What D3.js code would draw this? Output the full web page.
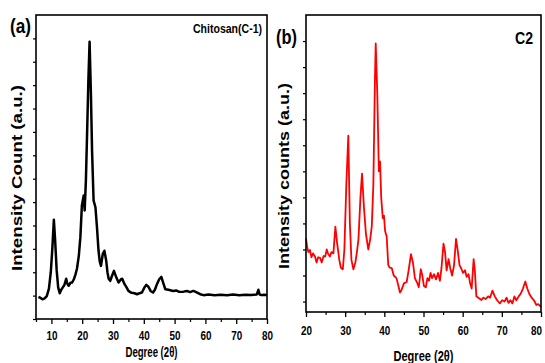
<!DOCTYPE html>
<html><head><meta charset="utf-8">
<script src="https://cdn.jsdelivr.net/npm/d3@7"></script>
<style>
body{margin:0;background:#fff;}
text{font-family:'Liberation Sans',Arial,sans-serif;font-weight:bold;}
</style></head>
<body><svg id="c" width="545" height="363"></svg>
<script>
// Panel (a) Chitosan(C-1)
const degA = [5.8,6.5,7.1,7.8,8.5,9.2,9.8,10.3,10.8,11.2,11.7,12.2,12.7,13.2,13.6,14.2,14.8,15.2,15.6,16.2,16.7,17.3,17.8,18.3,18.9,19.4,19.9,20.5,20.8,21.2,21.6,22.0,22.4,22.8,23.2,23.7,24.3,24.8,25.3,25.7,26.1,26.7,27.2,27.8,28.2,28.6,29.1,29.7,30.3,31.1,31.8,32.6,33.0,33.7,34.4,35.0,36.0,37.0,37.8,38.6,39.4,40.2,40.8,41.5,42.2,43.0,43.6,44.3,45.0,45.7,46.3,47.0,48.0,48.6,49.5,50.5,51.5,52.9,54,55,56.1,57,58.3,59.4,61,63,65,67,69,71,73,75,76.7,77.2,77.6,78.3,79,80];
const intA = [0.94,0.90,0.84,0.88,0.98,1.30,2.0,3.0,4.24,3.4,2.1,1.35,1.10,1.25,1.33,1.45,1.72,1.50,1.42,1.55,1.56,1.70,1.90,2.15,2.7,3.49,4.85,5.28,4.64,5.92,8.0,10.2,11.86,9.8,7.2,5.06,4.78,3.92,2.92,2.45,2.27,2.79,2.92,2.49,2.0,1.72,1.63,1.85,2.06,1.77,1.56,1.70,1.72,1.50,1.35,1.20,1.12,1.10,1.06,1.10,1.13,1.35,1.46,1.38,1.20,1.13,1.25,1.50,1.70,1.80,1.55,1.27,1.25,1.23,1.20,1.22,1.16,1.17,1.20,1.15,1.20,1.15,1.06,1.02,1.05,1.02,1.04,1.02,1.05,1.02,1.04,1.03,1.05,1.25,1.05,1.02,1.04,1.03];
// Panel (b) C2
const degB = [20,20.3,20.6,21,21.4,21.8,22.3,22.7,23.1,23.6,24,24.5,24.9,25.3,25.6,26.1,26.5,27,27.5,27.9,28.5,28.9,29.4,29.8,30.3,30.8,31.2,31.6,32.1,32.6,33.0,33.4,33.9,34.3,34.8,35.3,35.9,36.4,36.8,37.2,37.6,37.8,38.2,38.6,38.9,39.2,39.6,39.9,40.2,40.6,41.0,41.4,41.9,42.4,43.1,43.6,44.0,44.4,45.0,45.7,46.2,46.8,47.3,47.8,48.3,48.8,49.3,49.7,50.1,50.6,51.0,51.4,51.8,52.2,52.7,53.2,53.7,54.2,54.6,55.1,55.5,55.9,56.4,56.8,57.3,57.8,58.3,58.7,59.2,59.6,60.1,60.6,61.0,61.5,61.9,62.3,62.8,63.1,63.5,64.0,64.8,65.3,65.9,66.5,67.0,67.6,68.2,68.8,69.5,70.1,70.7,71.2,71.7,72.2,72.7,73.2,73.7,74.3,74.8,75.4,76.0,76.5,77.0,77.6,78.2,78.8,79.3,80];
const intB = [2.43,2.1,1.9,1.98,1.7,1.85,1.73,1.5,1.7,1.68,1.5,1.75,1.73,2.0,1.85,1.73,1.9,1.85,2.88,2.3,1.60,1.3,1.24,2.0,4.5,6.37,3.0,1.6,1.24,1.5,1.9,2.4,4.0,4.91,3.6,2.6,2.0,2.4,2.9,4.5,8.5,9.91,8.0,5.0,5.38,4.0,3.2,3.3,2.7,2.5,1.4,1.3,1.28,1.0,0.90,0.6,0.35,0.45,0.7,0.75,1.2,1.82,1.5,0.9,0.75,0.55,1.24,1.0,0.6,0.55,0.9,0.8,1.1,0.9,1.05,0.85,1.1,0.8,1.3,2.22,1.9,1.2,1.63,1.3,1.0,1.4,2.41,2.0,1.4,1.28,1.1,1.2,0.95,1.05,0.7,0.5,1.63,1.2,0.2,0.15,0.06,0.15,0.1,0.2,0.15,0.42,0.2,0.05,-0.07,0.05,0.0,0.15,-0.05,0.05,-0.07,0.2,0.05,0.2,0.3,0.5,0.77,0.5,0.3,0.15,0.05,-0.13,-0.1,-0.20];
const xTicksA = [10,20,30,40,50,60,70,80];
const xTicksB = [20,30,40,50,60,70,80];

const svg = d3.select('#c');

function panel(o){
  const g = svg.append('g');
  const x = d3.scaleLinear().domain(o.xd).range([o.l,o.r]);
  const y = d3.scaleLinear().domain(o.yd).range([o.b,o.t]);
  const line = d3.line().x((d,i)=>x(o.xs[i])).y(d=>y(d));
  g.append('path').datum(o.ys).attr('d',line).attr('fill','none')
    .attr('stroke',o.color).attr('stroke-width',o.sw).attr('stroke-linejoin','round');
  g.append('rect').attr('x',o.l).attr('y',o.t).attr('width',o.r-o.l).attr('height',o.b-o.t)
    .attr('fill','none').attr('stroke','#000').attr('stroke-width',1.6);
  const minor = d3.range(o.xd[0],o.xd[1]+0.01,5).filter(v=>v%10!==0);
  const xa = g.append('g').attr('transform',`translate(0,${o.b})`)
    .call(d3.axisBottom(x).tickValues(o.xt).tickSize(5).tickPadding(o.tp).tickFormat(d3.format('d')));
  xa.select('.domain').remove();
  xa.selectAll('line').attr('stroke-width',1.3);
  xa.selectAll('text').attr('font-size',12.5).attr('fill','#000')
    .attr('textLength',11).attr('lengthAdjust','spacingAndGlyphs')
    .attr('dx',d=>(o.shiftLast && d===o.xt[o.xt.length-1]) ? -5 : 0);
  g.append('g').attr('transform',`translate(0,${o.b})`)
    .call(d3.axisBottom(x).tickValues(minor).tickSize(3).tickFormat(''))
    .call(s=>{s.select('.domain').remove();s.selectAll('line').attr('stroke-width',1.2);});
  const ya = g.append('g').attr('transform',`translate(${o.l},0)`)
    .call(d3.axisLeft(y).tickValues(o.yt).tickSize(3).tickFormat(''));
  ya.select('.domain').remove();
  ya.selectAll('line').attr('stroke-width',1.2);
  g.append('text').attr('x',(o.l+o.r)/2).attr('y',o.xtY).attr('text-anchor','middle')
    .attr('font-size',15)
    .attr('textLength',o.xtW).attr('lengthAdjust','spacingAndGlyphs').text('Degree (2θ)');
  g.append('text').attr('transform',`translate(${o.ytX},${o.ytY}) rotate(-90)`)
    .attr('text-anchor','middle').attr('font-size',15)
    .attr('textLength',186).attr('lengthAdjust','spacingAndGlyphs').text(o.ytitle);
  g.append('text').attr('x',o.pX).attr('y',o.pY).attr('font-size',20)
    .attr('textLength',21).attr('lengthAdjust','spacingAndGlyphs').text(o.plabel);
  g.append('text').attr('x',o.nX).attr('y',o.nY).attr('text-anchor','end')
    .attr('font-size',o.nS).attr('textLength',o.nW).attr('lengthAdjust','spacingAndGlyphs').text(o.name);
}

panel({xd:[5,80],yd:[0,13],l:36,r:267,t:15,b:319,xs:degA,ys:intA,color:'#000',sw:2.5,tp:7,
  xt:xTicksA,yt:d3.range(0,13,1),xtY:357,xtW:52,ytX:22,ytY:178,ytitle:'Intensity Count (a.u.)',
  pX:10,pY:33,plabel:'(a)',nX:262,nY:33,nS:13.5,nW:69,name:'Chitosan(C-1)',shiftLast:false});
panel({xd:[20,80],yd:[-0.4,11],l:306,r:541,t:15,b:312,xs:degB,ys:intB,color:'#ff0000',sw:1.8,tp:9,
  xt:xTicksB,yt:d3.range(0,11,1),xtY:361,xtW:60,ytX:289,ytY:176,ytitle:'Intensity counts (a.u.)',
  pX:276,pY:44,plabel:'(b)',nX:533,nY:44,nS:16,nW:18,name:'C2',shiftLast:true});
</script></body></html>
